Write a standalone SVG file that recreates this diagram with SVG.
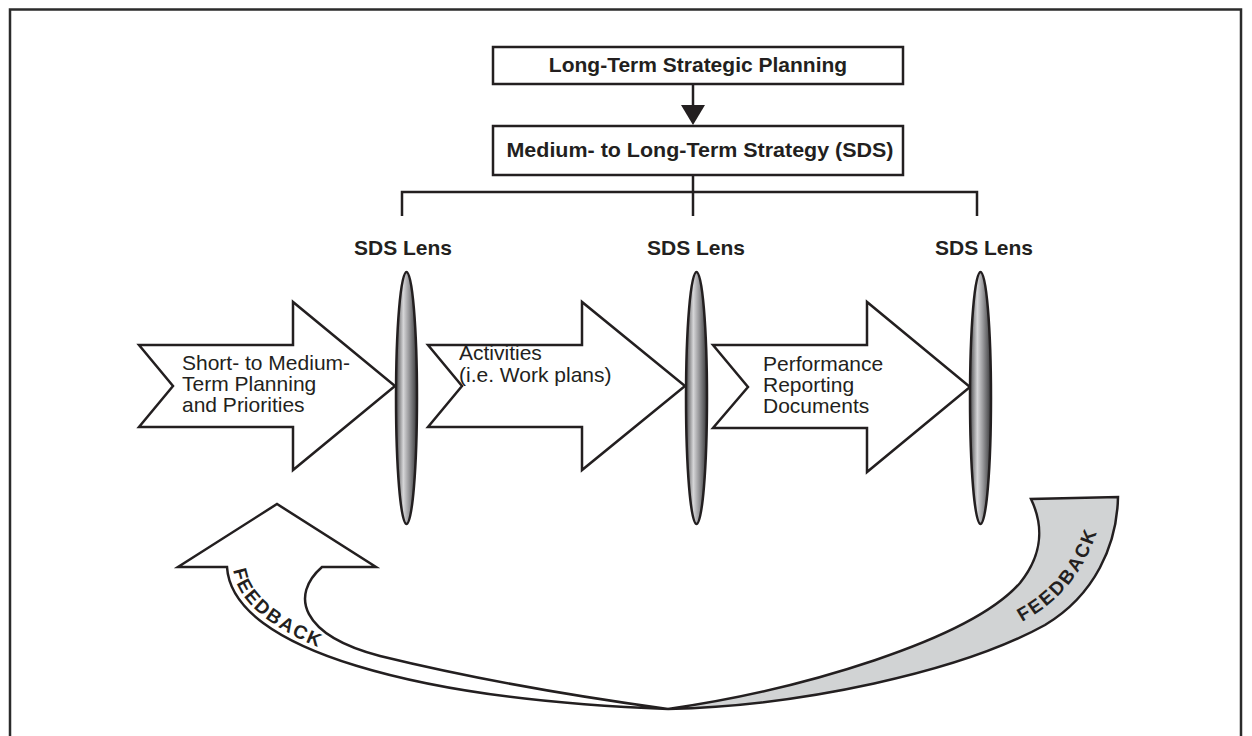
<svg xmlns="http://www.w3.org/2000/svg" width="1252" height="736" viewBox="0 0 1252 736">
<defs>
<linearGradient id="lensGrad" x1="0" y1="0" x2="1" y2="0">
<stop offset="0" stop-color="#4a4a4c"/>
<stop offset="0.35" stop-color="#d6d6d8"/>
<stop offset="0.6" stop-color="#9c9c9f"/>
<stop offset="1" stop-color="#38383a"/>
</linearGradient>
<path id="fbLeftPath" d="M233,566 C237,646 421,695 668,704"/>
<path id="fbRightPath" d="M1022,622 C1058,602 1088,574 1104,508"/>
</defs>
<style>
.box{fill:#fff;stroke:#231f20;stroke-width:2.5}
.ln{fill:none;stroke:#231f20;stroke-width:2.5}
.arrow{fill:#fff;stroke:#231f20;stroke-width:2.5;stroke-linejoin:miter}
.lens{fill:url(#lensGrad);stroke:#231f20;stroke-width:2.5}
.hb{font-family:"Liberation Sans",Arial,sans-serif;font-weight:bold;font-size:21px;fill:#231f20}
.tx{font-family:"Liberation Sans",Arial,sans-serif;font-size:21px;fill:#231f20}
.fb{font-family:"Liberation Sans",Arial,sans-serif;font-weight:bold;font-size:19px;fill:#231f20;letter-spacing:2px}
</style>
<rect x="0" y="0" width="1252" height="736" fill="#fff"/>
<rect x="10" y="9.5" width="1231" height="740" fill="none" stroke="#2b2b2b" stroke-width="2.5"/>

<g id="connectors">
<line class="ln" x1="693" y1="84" x2="693" y2="106"/>
<polygon points="681,105 705,105 693,125" fill="#231f20"/>
<polyline class="ln" points="402,216 402,192 977,192 977,216"/>
<line class="ln" x1="693" y1="175" x2="693" y2="216"/>
</g>

<g id="node-long-term">
<rect class="box" x="493" y="47" width="410" height="37"/>
<text class="hb" x="698" y="72" text-anchor="middle">Long-Term Strategic Planning</text>
</g>

<g id="node-medium-term">
<rect class="box" x="493" y="126" width="410" height="49"/>
<text class="hb" x="700" y="157" text-anchor="middle" textLength="387" lengthAdjust="spacingAndGlyphs">Medium- to Long-Term Strategy (SDS)</text>
</g>

<g id="node-feedback-right">
<path d="M668,709 C800,706 960,672 1045,625 C1095,595 1117,545 1118,497 L1031,499 C1042,522 1045,552 1020,583 C970,640 800,690 668,709 Z" fill="#d1d3d4" stroke="#231f20" stroke-width="2.5" stroke-linejoin="miter"/>
<text class="fb"><textPath href="#fbRightPath">FEEDBACK</textPath></text>
</g>

<g id="node-feedback-left">
<path d="M668,709 C420,700 232,650 227,567 L178,567 L277,504 L376,567 L322,567 C290,595 300,635 380,656 C470,678 580,697 668,709 Z" fill="#fff" stroke="#231f20" stroke-width="2.5" stroke-linejoin="miter"/>
<text class="fb"><textPath href="#fbLeftPath" startOffset="4">FEEDBACK</textPath></text>
</g>

<g id="node-arrow-1">
<polygon class="arrow" points="139,345 293,345 293,302 395,386 293,470 293,427 139,427 173,386"/>
<text class="tx" x="182" y="370">Short- to Medium-</text>
<text class="tx" x="182" y="391">Term Planning</text>
<text class="tx" x="182" y="412">and Priorities</text>
</g>

<g id="node-arrow-2">
<polygon class="arrow" points="428,345 582,345 582,302 685,386 582,470 582,427 428,427 462,386"/>
<text class="tx" x="459" y="360">Activities</text>
<text class="tx" x="459" y="382">(i.e. Work plans)</text>
</g>

<g id="node-arrow-3">
<polygon class="arrow" points="713,345 867,345 867,302 970,387 867,472 867,428 713,428 748,387"/>
<text class="tx" x="763" y="371">Performance</text>
<text class="tx" x="763" y="392">Reporting</text>
<text class="tx" x="763" y="413">Documents</text>
</g>

<g id="node-lens-1">
<text class="hb" x="403" y="255" text-anchor="middle">SDS Lens</text>
<ellipse class="lens" cx="406.5" cy="398" rx="10.5" ry="126"/>
</g>
<g id="node-lens-2">
<text class="hb" x="696" y="255" text-anchor="middle">SDS Lens</text>
<ellipse class="lens" cx="696.5" cy="398" rx="10.5" ry="126"/>
</g>
<g id="node-lens-3">
<text class="hb" x="984" y="255" text-anchor="middle">SDS Lens</text>
<ellipse class="lens" cx="980.5" cy="398" rx="10.5" ry="126"/>
</g>
</svg>
